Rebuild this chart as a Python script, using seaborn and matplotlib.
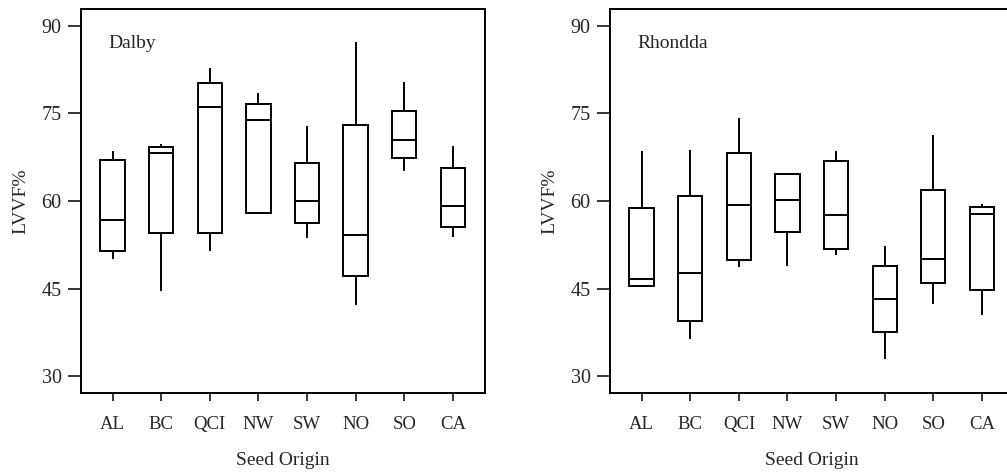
import pandas as pd
import matplotlib
matplotlib.use("Agg")
import matplotlib.pyplot as plt
import seaborn as sns

# seed origins and box statistics (LVVF %)
origins = ["AL", "BC", "QCI", "NW", "SW", "NO", "SO", "CA"]

dalby_min = [50.1, 44.5, 51.5, 58.0, 53.6, 42.1, 65.1, 53.9]
dalby_q1 = [51.5, 54.5, 54.5, 58.0, 56.3, 47.1, 67.3, 55.5]
dalby_med = [56.8, 68.3, 76.1, 73.8, 60.0, 54.1, 70.5, 59.2]
dalby_q3 = [67.0, 69.2, 80.3, 76.7, 66.5, 73.0, 75.5, 65.6]
dalby_max = [68.6, 69.7, 82.7, 78.5, 72.9, 87.2, 80.4, 69.5]

rhondda_min = [45.2, 36.4, 48.7, 48.8, 50.7, 33.0, 42.3, 40.5]
rhondda_q1 = [45.4, 39.5, 49.9, 54.6, 51.8, 37.6, 45.9, 44.8]
rhondda_med = [46.7, 47.7, 59.3, 60.1, 57.6, 43.2, 50.0, 57.8]
rhondda_q3 = [58.8, 60.8, 68.2, 64.6, 66.9, 48.8, 61.8, 59.0]
rhondda_max = [68.5, 68.7, 74.2, 64.6, 68.5, 52.2, 71.3, 59.5]


def long_table(mins, q1s, meds, q3s, maxs):
    # five points per origin -> quartiles fall exactly on q1/med/q3
    rows = []
    for i, o in enumerate(origins):
        for v in (mins[i], q1s[i], meds[i], q3s[i], maxs[i]):
            rows.append({"Seed Origin": o, "LVVF%": v})
    return pd.DataFrame(rows)


dalby = long_table(dalby_min, dalby_q1, dalby_med, dalby_q3, dalby_max)
rhondda = long_table(rhondda_min, rhondda_q1, rhondda_med, rhondda_q3, rhondda_max)

sns.set_style("ticks")
plt.rcParams["font.family"] = ["Liberation Serif", "DejaVu Serif"]
plt.rcParams["font.size"] = 14

fig = plt.figure(figsize=(10.07, 4.72), dpi=100)
ax1 = fig.add_axes([0.0804, 0.1674, 0.4012, 0.8136])
ax2 = fig.add_axes([0.6058, 0.1674, 0.4012, 0.8136])

for ax, df, name in [(ax1, dalby, "Dalby"), (ax2, rhondda, "Rhondda")]:
    sns.boxplot(data=df, x="Seed Origin", y="LVVF%", order=origins,
                whis=(0, 100), width=0.5, color="white", linecolor="black",
                linewidth=1.4, showcaps=False, ax=ax)
    ax.set_xlim(-0.65, 7.66)
    ax.set_ylim(27.1, 92.9)
    ax.set_yticks([30, 45, 60, 75, 90])
    ax.tick_params(axis="y", length=9.5, width=1.3, pad=4.5, labelsize=14.5)
    ax.tick_params(axis="x", length=5.5, width=1.3, pad=11, labelsize=13.5)
    for s in ax.spines.values():
        s.set_linewidth(1.4)
        s.set_color("black")
    ax.set_xlabel("Seed Origin", fontsize=14, labelpad=14)
    ax.set_ylabel("LVVF%", fontsize=14, labelpad=9)
    ax.text(0.067, 0.911, name, transform=ax.transAxes, fontsize=14,
            va="center", ha="left")

fig.savefig("out.png", dpi=100)
